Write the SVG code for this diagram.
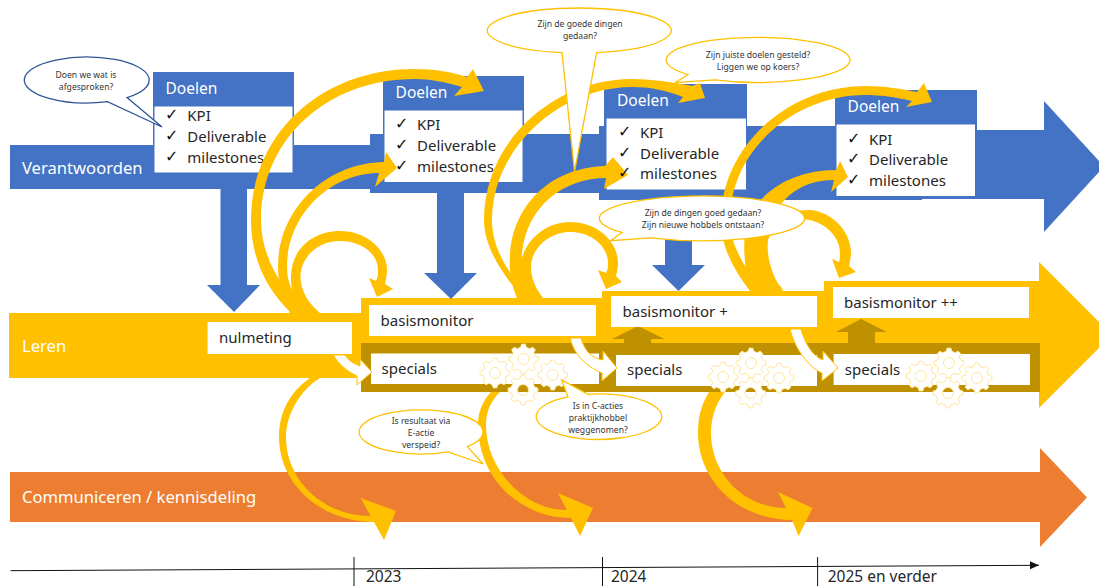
<svg xmlns="http://www.w3.org/2000/svg" width="1099" height="586" viewBox="0 0 1099 586">
<style>
text{font-family:"Noto Sans","Open Sans","DejaVu Sans",sans-serif;fill:#262626}
.blue{fill:#4472C4}
.yel{fill:#FFC000}
.org{fill:#ED7D31}
.brn{fill:#BF9000}
.box{fill:#fff}
.t15{font-size:15px}
.yr{font-size:15.5px}
.lab{font-size:16.6px;fill:#fff}
.head{font-size:15.5px;fill:#fff}
.chk{font-family:"DejaVu Sans",sans-serif;font-size:16px;fill:#111}
.b{fill:#fff;stroke:#FFC000;stroke-width:1.3}
.bb{fill:#fff;stroke:#2F5597;stroke-width:1.3}
.bt{font-size:8.6px;text-anchor:middle;fill:#333}
.wa{fill:#fff;stroke:#FFC000;stroke-width:1}
.gear{fill:#fff;fill-rule:evenodd;stroke:#FFE699;stroke-width:1}
</style>
<defs>
<path id="g" d="M11.64,-2.9L14.89,-1.83L14.89,1.83L11.64,2.9L10.29,6.18L11.82,9.23L9.23,11.82L6.18,10.29L2.9,11.64L1.83,14.89L-1.83,14.89L-2.9,11.64L-6.18,10.29L-9.23,11.82L-11.82,9.23L-10.29,6.18L-11.64,2.9L-14.89,1.83L-14.89,-1.83L-11.64,-2.9L-10.29,-6.18L-11.82,-9.23L-9.23,-11.82L-6.18,-10.29L-2.9,-11.64L-1.83,-14.89L1.83,-14.89L2.9,-11.64L6.18,-10.29L9.23,-11.82L11.82,-9.23L10.29,-6.18ZM5.5,0A5.5,5.5 0 1 0 -5.5,0A5.5,5.5 0 1 0 5.5,0Z"/>
<marker id="tl" markerWidth="10" markerHeight="10" refX="9" refY="4" orient="auto" markerUnits="userSpaceOnUse"><path d="M0,0L9,4L0,8Z" fill="#111"/></marker>
</defs>

<g id="band-verantwoorden">
<path class="blue" d="M10,145H370V134H599V126H922V130H1044V101L1104,166.5L1044,232V199H922V200H599V193H370V189H10Z"/>
<text class="lab" x="22" y="173.5">Verantwoorden</text>
</g>
<g id="band-leren">
<path class="yel" d="M9,313H361V298H602V291H824V281H1039V262L1112,335L1039,408V392H361V378H9Z"/>
<rect class="brn" x="361" y="343" width="679" height="49"/>
<text class="lab" x="22" y="352">Leren</text>
</g>
<g id="band-communiceren">
<path class="org" d="M10,472H1040V448L1087,497.5L1040,547V522H10Z"/>
<text class="lab" x="22" y="503">Communiceren / kennisdeling</text>
</g>

<g id="down-arrows">
<path class="blue" d="M220.500,185H247V285H260L234,312L207,285H220.500Z"/>
<path class="blue" d="M437,190H464V273H477L451,299L424,273H437Z"/>
<path class="blue" d="M665,235H692V265H705L678.500,291L652,265H665Z"/>
<path class="brn" d="M624,344V339H612L638,326L664.500,339H651V344Z"/>
<path class="brn" d="M848,344V332H836L861,319L887,332H875V344Z"/>
</g>

<g id="doelen-1">
<rect class="blue" x="153" y="72" width="141" height="101"/><rect class="box" x="154.500" y="106.500" width="138" height="66"/>
<text class="head" x="165.500" y="94.300">Doelen</text>
<text class="t15" x="187.300" y="121">KPI</text><text class="t15" x="187.300" y="142">Deliverable</text><text class="t15" x="187.300" y="162.700">milestones</text>
</g>
<g id="doelen-2">
<rect class="blue" x="383" y="76" width="141" height="106"/><rect class="box" x="384.500" y="110.500" width="138" height="71.500"/>
<text class="head" x="395.600" y="98">Doelen</text>
<text class="t15" x="417" y="130">KPI</text><text class="t15" x="417" y="151">Deliverable</text><text class="t15" x="417" y="172">milestones</text>
</g>
<g id="doelen-3">
<rect class="blue" x="604" y="84" width="143" height="106"/><rect class="box" x="606.500" y="118.500" width="139.500" height="71"/>
<text class="head" x="617" y="106">Doelen</text>
<text class="t15" x="640" y="138">KPI</text><text class="t15" x="640" y="159">Deliverable</text><text class="t15" x="640" y="179">milestones</text>
</g>
<g id="doelen-4">
<rect class="blue" x="835" y="90" width="142" height="106"/><rect class="box" x="836.500" y="124.500" width="138.500" height="71.500"/>
<text class="head" x="847.600" y="112">Doelen</text>
<text class="t15" x="869" y="145">KPI</text><text class="t15" x="869" y="165">Deliverable</text><text class="t15" x="869" y="186">milestones</text>
</g>

<g id="connectors">
<path class="yel" d="M291,313C262,285 251,252 251,220C251,135 320,69 415,69C435,69 452,72 467,77L473,69L484,91L454,96L462,87C446,82 430,79 415,79C326,79 261,140 261,220C261,255 280,290 310,313Z"/>
<path class="yel" d="M290,313C281,295 278,280 278,267C278,210 325,163 384,162L386,152L397,168L375,187L379,173C330,173 287,215 287,267C287,285 295,300 310,313Z"/>
<path class="yel" d="M300,313C293,300 291,290 291,277C291,250 312,231 340,231C367,231 387,250 387,270C387,275 386,279 385,284L393,289L377,297L369,278L376,281C378,277 378,273 378,270C378,254 362,241 340,241C318,241 300.500,257 300.500,277C300.500,290 308,303 320,313Z"/>
<path class="yel" d="M523,298C500,272 484,245 484,220C484,140 555,79 632,79C650,79 672,82 692,86L700,83L705,98L678,103L683,97C665,90 650,87 632,87C560,87 492,148 492,220C492,250 510,275 530,298Z"/>
<path class="yel" d="M517,298C511,283 509,270 510,255C513,205 550,168 605,166L613,157L628,175L604,189L606,178C565,178 527,205 522,253C521,270 526,285 535,298Z"/>
<path class="yel" d="M520,298L522,258C528,237 548,222 570,222C597,222 618,241 618,263C618,268 617,272 616,276L622,282L606,289L598,270L606,273C608,270 608,266 608,263C608,246 591,232 570,232C550,232 531,248 531,267C531,278 536,289 543,298Z"/>
<path class="yel" d="M750,291C732,268 721,245 721,220C721,145 790,86 865,86C885,86 902,89 917,92L924,83L932,102L906,107L912,101C895,97 880,95 865,95C795,95 730,150 730,220C730,245 745,270 765,291Z"/>
<path class="yel" d="M750,291C745,270 743,250 745,235C748,200 785,170 836,170L840,161L848,177L831,192L834,180C800,180 772,200 768,240C766,258 773,278 783,291Z"/>
<path class="yel" d="M745,250C750,225 780,210 810,210C833,212 851,232 851,253C851,257 850,261 849,266L856,272L839,278L832,259L839,262C840,259 840,256 840,253C840,235 822,219 800,219C780,219 764,236 764,258C764,270 772,282 785,291Z"/>
<path class="yel" d="M310,378C290,392 279,412 279,437C279,485 322,522 374,522L384,540L396,511L360.600,498L370.600,516C325,516 286,482 286,437C286,415 300,390 320,378Z"/>
<path class="yel" d="M491,392C482,402 478,412 478,425C478,478 520,518 571,518L580,536L593,508L558,493L566.700,510C525,510 486,470 486,425C486,410 492,400 500,392Z"/>
<path class="yel" d="M709,392C701,405 698,418 698,433C698,482 740,520 792,520L798.600,536L812.600,508L778,492L786,508C745,508 711,475 711,433C711,418 716,403 725,392Z"/>
</g>

<g id="nulmeting"><rect class="box" x="207.600" y="322" width="144.400" height="32"/><text class="t15" x="219" y="342.700">nulmeting</text></g>
<g id="basismonitor"><rect class="box" x="369" y="305" width="227" height="31"/><text class="t15" x="380.600" y="326">basismonitor</text></g>
<g id="basismonitor-plus"><rect class="box" x="611" y="296" width="206" height="31"/><text class="t15" x="622.500" y="317">basismonitor +</text></g>
<g id="basismonitor-plusplus"><rect class="box" x="833" y="287" width="196" height="31"/><text class="t15" x="844" y="308">basismonitor ++</text></g>
<g id="specials-1"><rect class="box" x="371" y="353.500" width="228" height="30.500"/><text class="t15" x="381.600" y="373.500">specials</text></g>
<g id="specials-2"><rect class="box" x="616" y="355" width="201" height="31"/><text class="t15" x="627" y="375">specials</text></g>
<g id="specials-3"><rect class="box" x="833.600" y="354" width="196.400" height="31"/><text class="t15" x="844.800" y="375">specials</text></g>

<g id="white-arrows">
<path class="wa" d="M333,355H345C349,361 353,363 360,366V359L372,372L357,385V376C346,371 339,364 333,355Z"/>
<path class="wa" d="M570,338H581C585,352 592,358 603,360V351L617,368L602,381V373C590,368 575,358 570,338Z"/>
<path class="wa" d="M790,329H801C805,343 812,356 823,360V351L838,368L822,381V373C810,368 795,350 790,329Z"/>
</g>

<g id="gears">
<use href="#g" class="gear" x="495" y="373"/><use href="#g" class="gear" x="523.500" y="359"/><use href="#g" class="gear" x="552.700" y="375"/><use href="#g" class="gear" x="523" y="390"/>
<use href="#g" class="gear" x="723" y="377"/><use href="#g" class="gear" x="751" y="363"/><use href="#g" class="gear" x="779" y="378"/><use href="#g" class="gear" x="750.600" y="393"/>
<use href="#g" class="gear" x="921" y="376"/><use href="#g" class="gear" x="949" y="363"/><use href="#g" class="gear" x="977" y="378"/><use href="#g" class="gear" x="948" y="393"/>
</g>

<g id="checks">
<text class="chk" x="165" y="120">✓</text><text class="chk" x="165" y="141">✓</text><text class="chk" x="165" y="161.700">✓</text>
<text class="chk" x="395" y="129">✓</text><text class="chk" x="395" y="150">✓</text><text class="chk" x="395" y="171">✓</text>
<text class="chk" x="618" y="137">✓</text><text class="chk" x="618" y="158">✓</text><text class="chk" x="618" y="178">✓</text>
<text class="chk" x="847" y="144">✓</text><text class="chk" x="847" y="164">✓</text><text class="chk" x="847" y="185">✓</text>
</g>

<g id="bubble-1"><path class="bb" d="M127,97.600A62.500,23 0 1 0 107.500,101.700L162,127Z"/><text class="bt" x="86" y="78">Doen we wat is</text><text class="bt" x="86" y="90">afgesproken?</text></g>
<g id="bubble-2"><path class="b" d="M596.600,52.600A92,22.500 0 1 0 562,52.600L574.500,172Z"/><text class="bt" x="580" y="27">Zijn de goede dingen</text><text class="bt" x="580" y="39">gedaan?</text></g>
<g id="bubble-3"><path class="b" d="M688,74.500A92,22.500 0 1 1 715,79.800L675,82.700Z"/><text class="bt" x="758" y="58">Zijn juiste doelen gesteld?</text><text class="bt" x="758" y="70">Liggen we op koers?</text></g>
<g id="bubble-4"><path class="b" d="M622,232.400A102.700,22.400 0 1 1 651,237.800L610.700,240.700Z"/><text class="bt" x="703" y="216">Zijn de dingen goed gedaan?</text><text class="bt" x="703" y="228">Zijn nieuwe hobbels ontstaan?</text></g>
<g id="bubble-5"><path class="b" d="M467.400,446.600A62,22 0 1 0 448,451.800L483,464Z"/><text class="bt" x="421" y="424">Is resultaat via</text><text class="bt" x="421" y="436">E-actie</text><text class="bt" x="421" y="448">verspeid?</text></g>
<g id="bubble-6"><path class="b" d="M588,394.300A62.800,22.700 0 1 1 568,396.900L561.700,380Z"/><text class="bt" x="598" y="409">Is in C-acties</text><text class="bt" x="598" y="421">praktijkhobbel</text><text class="bt" x="598" y="433">weggenomen?</text></g>

<g id="timeline">
<path d="M10.500,570.700L1039,565.300" fill="none" stroke="#111" stroke-width="1" marker-end="url(#tl)"/>
<path d="M354,557V586M602.500,557V586M817.600,557V586" fill="none" stroke="#111" stroke-width="1"/>
<text class="yr" x="366" y="581.500">2023</text><text class="yr" x="611" y="581.500">2024</text><text class="yr" x="827.700" y="581.500">2025 en verder</text>
</g>
</svg>
